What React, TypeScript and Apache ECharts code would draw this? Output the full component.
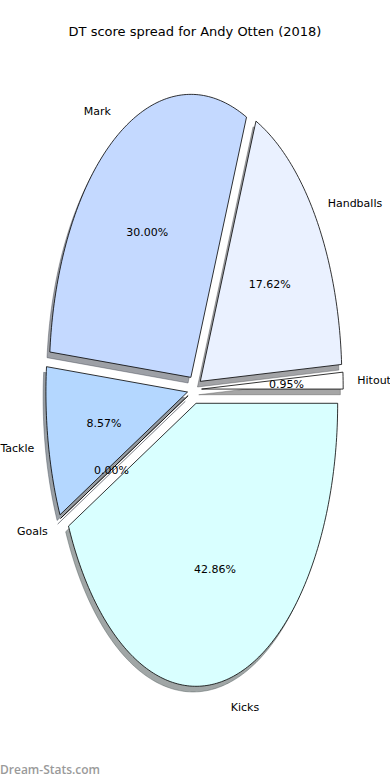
import React, { useEffect, useRef } from "react";
import * as echarts from "echarts";

const titleText = "DT score spread for Andy Otten (2018)";
const categories = ["Hitout", "Handballs", "Mark", "Tackle", "Goals", "Kicks"];
const values = [1, 18.5, 31.5, 9, 0, 45];
const sliceColors = ["#ffffff", "#eaf1ff", "#c4d9ff", "#b4d7ff", "#cfe2ff", "#d9ffff"];
const watermark = "Dream-Stats.com";

// layout (pixels / radius fractions)
const CX = 194.5;
const CY = 389.5;
const RX = 141.6;
const RY = 283;
const EXPLODE = 0.05;
const LABEL_DIST = 1.1;
const PCT_DIST = 0.6;
const SHADOW_OX = -0.02;
const SHADOW_OY = -0.02;

function hexToRgb(h: string) {
  const n = parseInt(h.slice(1), 16);
  return [(n >> 16) & 255, (n >> 8) & 255, n & 255];
}

export default function App() {
  const ref = useRef<HTMLDivElement>(null);
  useEffect(() => {
    document.body.style.margin = "0";
    if (!ref.current) return;
    const chart = echarts.init(ref.current, undefined, { renderer: "svg" });
    const total = values.reduce((a, b) => a + b, 0);
    const starts: number[] = [];
    let acc = 0;
    values.forEach((v) => {
      starts.push((acc / total) * 360);
      acc += v;
    });

    const font = "11px 'DejaVu Sans'";

    const renderItem = (params: any, api: any) => {
      const i = params.dataIndex;
      const v = api.value(0);
      const a0 = starts[i];
      const a1 = a0 + (v / total) * 360;
      const mid = ((a0 + a1) / 2) * (Math.PI / 180);
      const ox = EXPLODE * Math.cos(mid);
      const oy = EXPLODE * Math.sin(mid);
      const pts = (dx: number, dy: number) => {
        const p: number[][] = [];
        const bx = CX + (ox + dx) * RX;
        const by = CY - (oy + dy) * RY;
        p.push([bx, by]);
        const steps = Math.max(1, Math.ceil((a1 - a0) / 1));
        for (let k = 0; k <= steps; k++) {
          const t = (a0 + ((a1 - a0) * k) / steps) * (Math.PI / 180);
          p.push([bx + RX * Math.cos(t), by - RY * Math.sin(t)]);
        }
        return p;
      };
      const rgb = hexToRgb(sliceColors[i]);
      const shadeCol = `rgb(${Math.round(rgb[0] * 0.3)},${Math.round(rgb[1] * 0.3)},${Math.round(rgb[2] * 0.3)})`;
      const lx = CX + (ox + LABEL_DIST * Math.cos(mid)) * RX;
      const ly = CY - (oy + LABEL_DIST * Math.sin(mid)) * RY + 1;
      const px = CX + (ox + PCT_DIST * Math.cos(mid)) * RX;
      const py = CY - (oy + PCT_DIST * Math.sin(mid)) * RY + 1;
      return {
        type: "group",
        children: [
          {
            type: "polygon",
            z2: 0,
            shape: { points: pts(SHADOW_OX, SHADOW_OY) },
            style: { fill: shadeCol, stroke: shadeCol, lineWidth: 0.8, opacity: 0.5 },
          },
          {
            type: "polygon",
            z2: 1,
            shape: { points: pts(0, 0) },
            style: { fill: sliceColors[i], stroke: "#000000", lineWidth: 0.8 },
          },
          {
            type: "text",
            z2: 5,
            style: {
              text: categories[i],
              x: lx,
              y: ly,
              font,
              fill: "#000000",
              align: Math.cos(mid) > 0 ? "left" : "right",
              verticalAlign: "middle",
            },
          },
          {
            type: "text",
            z2: 5,
            style: {
              text: ((v / total) * 100).toFixed(2) + "%",
              x: px,
              y: py,
              font,
              fill: "#000000",
              align: "center",
              verticalAlign: "middle",
            },
          },
        ],
      };
    };

    chart.setOption({
      animation: false,
      title: {
        text: titleText,
        left: "center",
        top: 20,
        textStyle: { fontFamily: "DejaVu Sans", fontSize: 13, fontWeight: "normal", color: "#000" },
      },
      graphic: [
        {
          type: "text",
          left: 0,
          top: 763,
          style: {
            text: watermark,
            font: "600 12px 'Open Sans'",
            fill: "#9a9a9a",
          },
        },
      ],
      series: [
        {
          type: "custom",
          coordinateSystem: "none",
          renderItem,
          data: values.map((v, i) => ({ name: categories[i], value: [v] })),
        },
      ],
    });
    return () => chart.dispose();
  }, []);
  return <div ref={ref} style={{ width: 390, height: 780 }} />;
}
